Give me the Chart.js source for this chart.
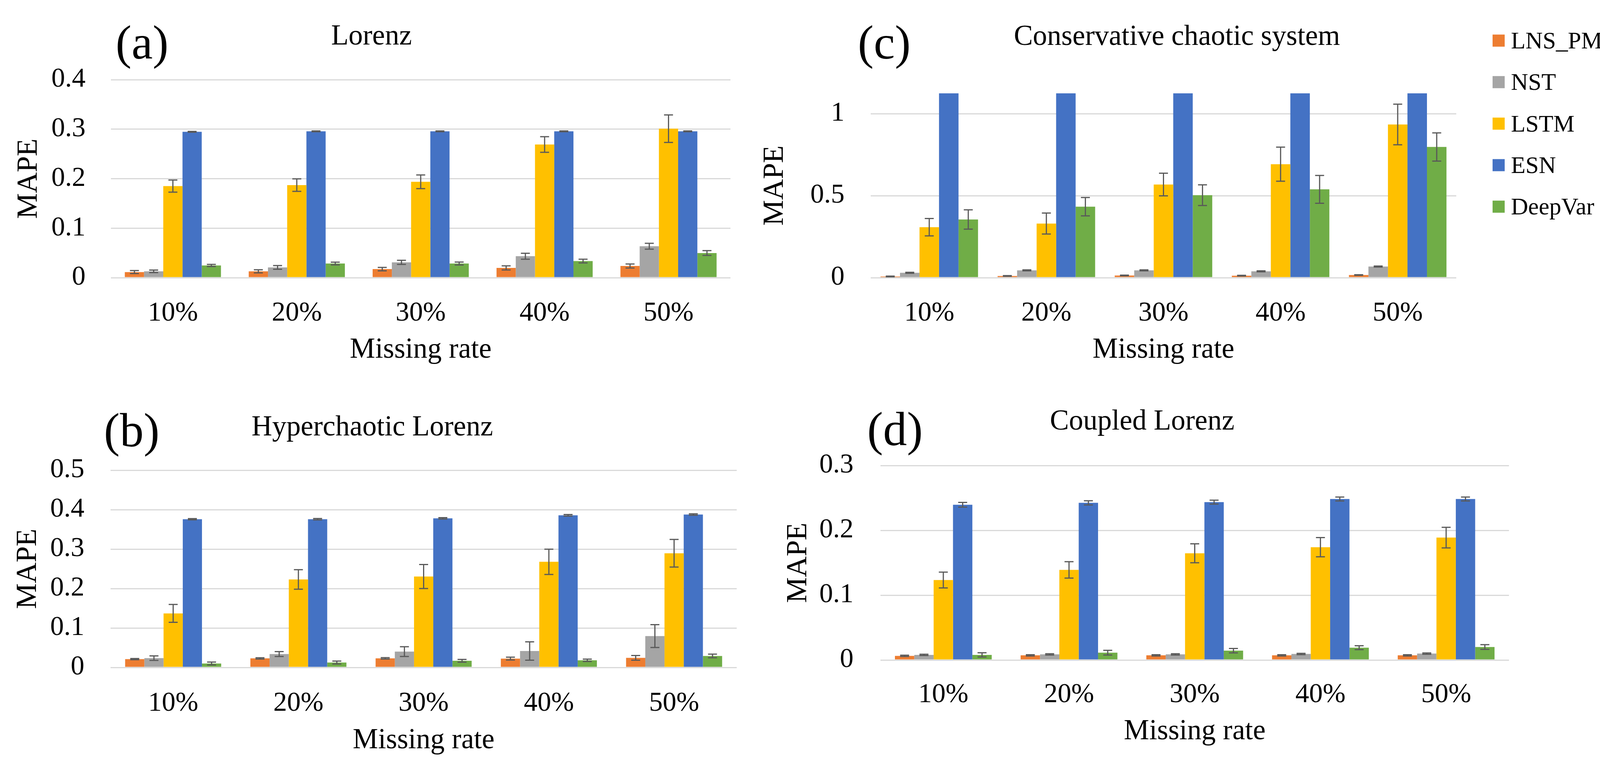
<!DOCTYPE html>
<html lang="en">
<head>
<meta charset="UTF-8" />
<title>MAPE vs missing rate</title>
<script src="https://cdn.jsdelivr.net/npm/chart.js"></script>
<style>
  html, body { margin: 0; padding: 0; background: #fff; }
  body { width: 4142px; height: 1964px; position: relative; overflow: hidden; }
  canvas { position: absolute; }
</style>
</head>
<body>
<canvas id="chartA" style="left:0px;top:0px" width="1940" height="980"></canvas>
<canvas id="chartC" style="left:1940px;top:0px" width="2202" height="980"></canvas>
<canvas id="chartB" style="left:0px;top:984px" width="2000" height="980"></canvas>
<canvas id="chartD" style="left:2000px;top:984px" width="2142" height="980"></canvas>

<script>
  const categories = ['10%', '20%', '30%', '40%', '50%'];
  const seriesNames = ['LNS_PM', 'NST', 'LSTM', 'ESN', 'DeepVar'];
  const seriesColors = ['#ED7D31', '#A5A5A5', '#FFC000', '#4472C4', '#70AD47'];

  // rows follow seriesNames: LNS_PM, NST, LSTM, ESN, DeepVar
  const lorenzMape = [
    [0.0113, 0.0128, 0.0173, 0.0197, 0.0236],
    [0.0128, 0.0207, 0.0310, 0.0433, 0.0635],
    [0.185, 0.187, 0.1936, 0.269, 0.301],
    [0.2946, 0.2956, 0.2956, 0.2956, 0.2956],
    [0.0246, 0.0286, 0.0286, 0.0335, 0.0498]
  ];
  const lorenzErr = [
    [0.003, 0.0032, 0.0035, 0.0042, 0.004],
    [0.0025, 0.0037, 0.0042, 0.006, 0.0059],
    [0.0123, 0.0126, 0.0138, 0.0158, 0.0278],
    [0.0008, 0.0008, 0.0008, 0.0008, 0.0008],
    [0.0022, 0.0027, 0.003, 0.0037, 0.0049]
  ];
  const lorenzTicks = [0, 0.1, 0.2, 0.3, 0.4];

  const hyperMape = [
    [0.021, 0.0229, 0.023, 0.0224, 0.0242],
    [0.0235, 0.034, 0.040, 0.0416, 0.0795],
    [0.137, 0.223, 0.2304, 0.2677, 0.2894],
    [0.3758, 0.3758, 0.378, 0.3857, 0.3876],
    [0.0099, 0.0124, 0.0168, 0.018, 0.029]
  ];
  const hyperErr = [
    [0.0015, 0.0015, 0.0018, 0.0037, 0.006],
    [0.0056, 0.0062, 0.0124, 0.0233, 0.029],
    [0.0226, 0.0248, 0.0304, 0.032, 0.035],
    [0.0015, 0.0017, 0.0017, 0.002, 0.0017],
    [0.0037, 0.0037, 0.0034, 0.003, 0.0046]
  ];
  const hyperTicks = [0, 0.1, 0.2, 0.3, 0.4, 0.5];

  // ESN runs past the top of this axis (bars are cut at the frame)
  const conservMape = [
    [0.0074, 0.0104, 0.0133, 0.012, 0.016],
    [0.0296, 0.0444, 0.0444, 0.0385, 0.068],
    [0.308, 0.33, 0.568, 0.692, 0.934],
    [1.2, 1.2, 1.2, 1.2, 1.2],
    [0.355, 0.433, 0.503, 0.5385, 0.797]
  ];
  const conservErr = [
    [0.002, 0.002, 0.002, 0.002, 0.002],
    [0.003, 0.003, 0.003, 0.003, 0.003],
    [0.053, 0.064, 0.069, 0.104, 0.124],
    [null, null, null, null, null],
    [0.059, 0.056, 0.063, 0.085, 0.086]
  ];
  const conservTicks = [0, 0.5, 1];
  const conservMax = 1.124;

  const coupledMape = [
    [0.0064, 0.0072, 0.0072, 0.0072, 0.0072],
    [0.0079, 0.0087, 0.0087, 0.0093, 0.0099],
    [0.1233, 0.139, 0.1646, 0.174, 0.1888],
    [0.2394, 0.2424, 0.2435, 0.2484, 0.2484],
    [0.0079, 0.0113, 0.0144, 0.019, 0.020]
  ];
  const coupledErr = [
    [0.001, 0.001, 0.001, 0.001, 0.001],
    [0.001, 0.001, 0.001, 0.001, 0.001],
    [0.0122, 0.0126, 0.0146, 0.0148, 0.0159],
    [0.0036, 0.0032, 0.003, 0.003, 0.003],
    [0.0032, 0.0036, 0.0034, 0.003, 0.0036]
  ];
  const coupledTicks = [0, 0.1, 0.2, 0.3];

  const serif = "'Liberation Serif', 'Times New Roman', serif";

  // error bars drawn from the y scale of each chart
  const errorBars = {
    id: 'errorBars',
    afterDatasetsDraw(chart) {
      const ctx = chart.ctx;
      const y = chart.scales.y;
      const a = chart.chartArea;
      ctx.save();
      ctx.beginPath();
      ctx.rect(a.left, a.top - 2, a.right - a.left, a.bottom - a.top + 4);
      ctx.clip();
      ctx.strokeStyle = '#595959';
      ctx.lineWidth = 3;
      chart.data.datasets.forEach((ds, i) => {
        chart.getDatasetMeta(i).data.forEach((bar, j) => {
          const e = ds.errors[j];
          if (e == null) return;
          const v = ds.data[j];
          const top = y.getPixelForValue(v + e);
          const bot = y.getPixelForValue(v - e);
          const w = 11.5;
          ctx.beginPath();
          ctx.moveTo(bar.x, top); ctx.lineTo(bar.x, bot);
          ctx.moveTo(bar.x - w, top); ctx.lineTo(bar.x + w, top);
          ctx.moveTo(bar.x - w, bot); ctx.lineTo(bar.x + w, bot);
          ctx.stroke();
        });
      });
      ctx.restore();
    }
  };

  // panel tag "(a)", chart title and (for one panel) the side legend
  const panelText = {
    id: 'panelText',
    afterDraw(chart, args, o) {
      const ctx = chart.ctx;
      ctx.save();
      ctx.fillStyle = '#000';
      ctx.textBaseline = 'alphabetic';
      ctx.font = '122px ' + serif;
      ctx.textAlign = 'left';
      ctx.fillText(o.tag, o.tagX, o.tagY);
      ctx.font = '73px ' + serif;
      ctx.textAlign = 'center';
      ctx.fillText(o.title, o.titleX, o.titleY);
      if (o.legend) {
        ctx.font = '61px ' + serif;
        ctx.textAlign = 'left';
        chart.data.datasets.forEach((ds, i) => {
          const cy = o.legendY + i * o.legendStep;
          ctx.fillStyle = ds.backgroundColor;
          ctx.fillRect(o.legendX, cy - 15.5, 31, 31);
          ctx.fillStyle = '#000';
          ctx.fillText(ds.label, o.legendX + 47, cy + 20);
        });
      }
      ctx.restore();
    }
  };

  function makeChart(id, values, errors, yTicks, yMax, lay) {
    const datasets = seriesNames.map((name, i) => ({
      label: name,
      data: values[i],
      errors: errors[i],
      backgroundColor: seriesColors[i],
      borderWidth: 0,
      clip: 0,
      categoryPercentage: lay.catPct,
      barPercentage: 1
    }));
    return new Chart(document.getElementById(id), {
      type: 'bar',
      data: { labels: categories, datasets: datasets },
      plugins: [errorBars, panelText],
      options: {
        responsive: false,
        devicePixelRatio: 1,
        animation: false,
        layout: { padding: lay.pad },
        plugins: {
          legend: { display: false },
          tooltip: { enabled: false },
          panelText: lay.text
        },
        scales: {
          x: {
            grid: { display: false },
            border: { display: false },
            ticks: { color: '#000', padding: lay.xTickPad, font: { family: serif, size: 70 } },
            title: {
              display: true, text: 'Missing rate', color: '#000',
              font: { family: serif, size: 73 }, padding: { top: 0, bottom: 0 }
            },
            afterFit: (s) => { s.height = lay.xHeight; }
          },
          y: {
            min: 0,
            max: yMax,
            afterBuildTicks: (axis) => { axis.ticks = yTicks.map(v => ({ value: v })); },
            grid: { color: '#d9d9d9', lineWidth: 3, drawTicks: false },
            border: { display: false },
            ticks: {
              color: '#000', padding: lay.yTickPad,
              font: { family: serif, size: 70 },
              callback: (v) => String(+Number(v).toFixed(2))
            },
            title: {
              display: true, text: 'MAPE', color: '#000',
              font: { family: serif, size: 74 }, padding: { top: lay.yTitlePad, bottom: 0 }
            },
            afterFit: (s) => { s.width = lay.yWidth; }
          }
        }
      }
    });
  }

  makeChart('chartA', lorenzMape, lorenzErr, lorenzTicks, 0.4, {
    pad: { left: 0, right: 70, top: 204, bottom: 39 },
    yWidth: 284, xHeight: 230, yTitlePad: 30, yTickPad: 65, xTickPad: 42, catPct: 0.776,
    text: { tag: '(a)', tagX: 296, tagY: 150, title: 'Lorenz', titleX: 951, titleY: 114 }
  });

  makeChart('chartC', conservMape, conservErr, conservTicks, conservMax, {
    pad: { left: 0, right: 414, top: 239, bottom: 39 },
    yWidth: 289, xHeight: 230, yTitlePad: 0, yTickPad: 67, xTickPad: 42, catPct: 0.833,
    text: {
      tag: '(c)', tagX: 256, tagY: 150, title: 'Conservative chaotic system', titleX: 1073, titleY: 115,
      legend: true, legendX: 1881, legendY: 104, legendStep: 106.3
    }
  });

  makeChart('chartB', hyperMape, hyperErr, hyperTicks, 0.5, {
    pad: { left: 0, right: 114, top: 220, bottom: 23 },
    yWidth: 283, xHeight: 232, yTitlePad: 28, yTickPad: 67, xTickPad: 43, catPct: 0.767,
    text: { tag: '(b)', tagX: 266, tagY: 159, title: 'Hyperchaotic Lorenz', titleX: 953, titleY: 131 }
  });

  makeChart('chartD', coupledMape, coupledErr, coupledTicks, 0.3, {
    pad: { left: 0, right: 279, top: 208, bottom: 46 },
    yWidth: 254, xHeight: 228, yTitlePad: 0, yTickPad: 69, xTickPad: 40, catPct: 0.77,
    text: { tag: '(d)', tagX: 220, tagY: 156, title: 'Coupled Lorenz', titleX: 924, titleY: 116 }
  });
</script>
</body>
</html>
